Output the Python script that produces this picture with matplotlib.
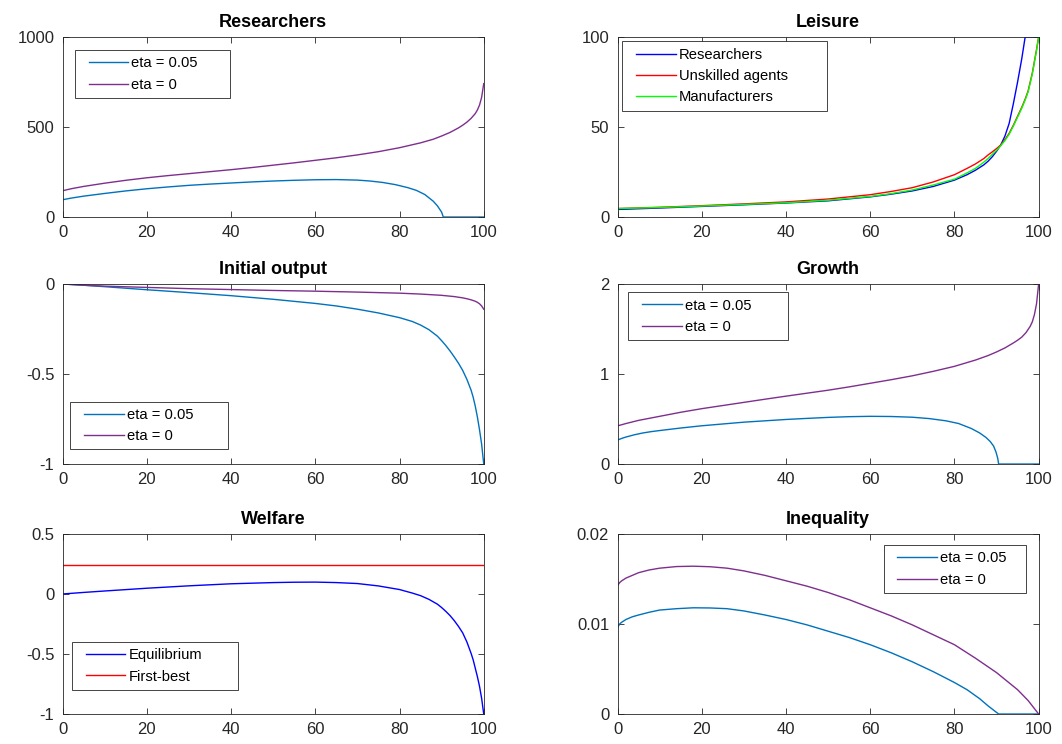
import numpy as np
import matplotlib
matplotlib.use('Agg')
import matplotlib.pyplot as plt
from matplotlib.legend_handler import HandlerLine2D

plt.rcParams['font.family'] = ['Liberation Sans', 'DejaVu Sans']

# ---------------- data ----------------
x_ticks = [0, 20, 40, 60, 80, 100]
x_tick_labels = ['0', '20', '40', '60', '80', '100']

# Researchers
res_x_eta05 = [0, 2, 5, 10, 15, 20, 25, 30, 35, 40, 45, 50, 55, 60, 65, 70, 73, 76, 79, 82, 84, 86, 88, 89, 90, 90.4, 95, 100]
res_eta05 = [96, 105, 116, 131, 145, 157, 167, 176, 183, 189, 195, 200, 204, 207, 208, 205, 200, 192, 180, 163, 148, 125, 88, 62, 27, 0, 0, 0]
res_x_eta0 = [0, 2, 5, 10, 15, 20, 25, 30, 35, 40, 45, 50, 55, 60, 65, 70, 75, 80, 85, 88, 90, 92, 94, 95, 96, 97, 98, 98.5, 99, 99.5, 100]
res_eta0 = [146, 157, 170, 188, 204, 218, 230, 241, 252, 263, 275, 288, 301, 315, 329, 345, 363, 385, 412, 432, 450, 470, 495, 510, 527, 548, 575, 595, 622, 665, 741]

# Leisure
lei_x = [0, 10, 20, 30, 40, 50, 60, 65, 70, 75, 80, 83, 85, 87, 88, 89, 90, 91, 92, 93, 94, 95, 96, 96.8, 97.5, 98, 98.5, 99, 99.5, 100]
lei_researchers = [4.2, 5.0, 5.9, 6.8, 7.8, 9.0, 11.2, 12.7, 14.5, 17.0, 20.5, 23.5, 26, 29, 31, 33.5, 36.5, 40, 45, 52, 63, 75, 88, 100, 100, 100, 100, 100, 100, 100]
lei_unskilled = [4.7, 5.4, 6.3, 7.3, 8.4, 10.0, 12.4, 14.2, 16.3, 19.5, 23.5, 27, 29.5, 32.5, 34.5, 36.2, 38, 40, 43, 46.5, 51, 56, 61, 65.5, 70, 75, 80, 86.5, 93, 100]
lei_manufacturers = [4.7, 5.3, 6.1, 7.0, 7.9, 9.3, 11.4, 13.0, 15.0, 17.8, 21.0, 24.5, 27, 30.5, 32.5, 34.8, 37, 39.6, 42.5, 46, 50.5, 55.5, 60.5, 65, 69.5, 74.5, 79.5, 86, 92.5, 100]

# Initial output
out_x_eta05 = [0, 5, 10, 20, 30, 40, 50, 60, 65, 70, 75, 80, 83, 85, 87, 89, 90, 91, 92, 93, 94, 95, 96, 97, 97.5, 98, 98.5, 99, 99.5, 100]
out_eta05 = [0, -0.007, -0.015, -0.032, -0.048, -0.065, -0.085, -0.108, -0.122, -0.14, -0.161, -0.187, -0.208, -0.228, -0.254, -0.29, -0.315, -0.342, -0.372, -0.405, -0.44, -0.48, -0.53, -0.59, -0.63, -0.68, -0.74, -0.81, -0.89, -1.0]
out_x_eta0 = [0, 5, 10, 20, 30, 40, 50, 60, 70, 80, 85, 90, 93, 95, 96, 97, 98, 98.5, 99, 99.5, 100]
out_eta0 = [0, -0.007, -0.012, -0.019, -0.026, -0.031, -0.036, -0.040, -0.045, -0.051, -0.056, -0.063, -0.07, -0.077, -0.082, -0.088, -0.096, -0.102, -0.11, -0.122, -0.14]

# Growth
gro_x_eta05 = [0, 1, 2, 4, 6, 8, 10, 15, 20, 25, 30, 35, 40, 45, 50, 55, 60, 65, 70, 74, 78, 81, 84, 86, 87.5, 88.5, 89.3, 89.9, 90.3, 90.5, 95, 100]
gro_eta05 = [0.266, 0.285, 0.30, 0.325, 0.345, 0.36, 0.372, 0.40, 0.425, 0.445, 0.465, 0.48, 0.495, 0.507, 0.518, 0.526, 0.53, 0.528, 0.52, 0.505, 0.48, 0.45, 0.395, 0.345, 0.295, 0.25, 0.2, 0.13, 0.06, 0, 0, 0]
gro_x_eta0 = [0, 2, 5, 10, 15, 20, 25, 30, 35, 40, 45, 50, 55, 60, 65, 70, 75, 80, 85, 88, 90, 92, 94, 95, 96, 97, 98, 98.5, 99, 99.5, 100]
gro_eta0 = [0.424, 0.45, 0.485, 0.53, 0.575, 0.615, 0.65, 0.685, 0.72, 0.754, 0.787, 0.82, 0.857, 0.897, 0.937, 0.98, 1.03, 1.085, 1.155, 1.205, 1.245, 1.29, 1.345, 1.375, 1.41, 1.46, 1.53, 1.58, 1.66, 1.78, 2.0]

# Welfare
wel_x = [0, 5, 10, 20, 30, 40, 50, 55, 60, 65, 70, 75, 80, 83, 85, 87, 89, 90, 91, 92, 93, 94, 95, 96, 97, 97.5, 98, 98.5, 99, 99.5, 100]
wel_equilibrium = [0, 0.013, 0.025, 0.048, 0.068, 0.085, 0.095, 0.098, 0.099, 0.095, 0.087, 0.067, 0.037, 0.008, -0.014, -0.045, -0.085, -0.113, -0.145, -0.18, -0.222, -0.27, -0.324, -0.40, -0.495, -0.55, -0.62, -0.69, -0.77, -0.87, -1.0]
wel_x_fb = [0, 100]
wel_first_best = [0.245, 0.245]

# Inequality
ine_x_eta05 = [0, 0.5, 1, 2, 3.5, 5, 7.5, 10, 14, 18, 22, 26, 30, 35, 40, 45, 50, 55, 60, 65, 70, 75, 80, 83, 86, 88, 90.5, 95, 100]
ine_eta05 = [0.0096, 0.0100, 0.0102, 0.0105, 0.0108, 0.0110, 0.0113, 0.01155, 0.0117, 0.0118, 0.01178, 0.0117, 0.01145, 0.0110, 0.0105, 0.0099, 0.0092, 0.0085, 0.0077, 0.0068, 0.0058, 0.0047, 0.0035, 0.0027, 0.0017, 0.0009, 0, 0, 0]
ine_x_eta0 = [0, 0.5, 1, 2, 3.5, 5, 7.5, 10, 14, 18, 22, 26, 30, 35, 40, 45, 50, 55, 60, 65, 70, 75, 80, 85, 90, 95, 97.5, 100]
ine_eta0 = [0.01426, 0.0146, 0.0148, 0.0151, 0.0154, 0.0157, 0.0160, 0.0162, 0.01638, 0.01642, 0.01636, 0.0162, 0.0159, 0.0154, 0.0148, 0.0142, 0.0135, 0.0127, 0.0118, 0.0109, 0.0099, 0.0088, 0.0077, 0.0062, 0.0046, 0.0027, 0.0015, 0]

# ---------------- style ----------------
C_BLUE = '#0072BD'
C_PURPLE = '#7E2F8E'
DARK = (0.15, 0.15, 0.15)
LW = 1.0
LEG_FS = 10.6
LEAD = 5.5  # points of blank before legend line


class LeadHandler(HandlerLine2D):
    def create_artists(self, legend, orig_handle, xdescent, ydescent,
                       width, height, fontsize, trans):
        arts = super().create_artists(legend, orig_handle, xdescent, ydescent,
                                      width, height, fontsize, trans)
        for a in arts:
            xd = np.asarray(a.get_xdata(), dtype=float)
            if xd.size >= 2:
                a.set_xdata(np.linspace(xd[0] + LEAD, xd[-1], xd.size))
        return arts


def style(ax, ylim, yticks, ylabels, title):
    ax.set_xlim(0, 100)
    ax.set_xticks(x_ticks)
    ax.set_xticklabels(x_tick_labels)
    ax.set_ylim(*ylim)
    ax.set_yticks(yticks)
    ax.set_yticklabels(ylabels)
    ax.tick_params(direction='in', length=4, width=0.6, top=True, right=True,
                   labelsize=12, colors=DARK, pad=6)
    for s in ax.spines.values():
        s.set_color(DARK)
        s.set_linewidth(0.6)
    ax.set_title(title, fontsize=13, fontweight='bold', pad=7, color='black')


def legend(ax, x0, y0, w, h):
    handles, labels = ax.get_legend_handles_labels()
    hmap = {hd: LeadHandler() for hd in handles}
    lg = ax.legend(handles, labels, loc='upper left', bbox_to_anchor=(x0, y0, w, h),
                   mode='expand', borderaxespad=0, fontsize=LEG_FS,
                   borderpad=0.42, labelspacing=0.5, handlelength=2.7 + LEAD / LEG_FS,
                   handletextpad=0.2, fancybox=False, framealpha=1,
                   edgecolor=DARK, handler_map=hmap)
    lg.get_frame().set_linewidth(0.6)
    return lg


fig = plt.figure(figsize=(10.62, 7.44), dpi=100)
L, R, W, H = 0.059, 0.5815, 0.3965, 0.242
rows = [0.7083, 0.3763, 0.0403]

# Researchers
ax = fig.add_axes([L, rows[0], W, H])
ax.plot(res_x_eta05, res_eta05, color=C_BLUE, lw=LW, label='eta = 0.05')
ax.plot(res_x_eta0, res_eta0, color=C_PURPLE, lw=LW, label='eta = 0')
style(ax, (0, 1000), [0, 500, 1000], ['0', '500', '1000'], 'Researchers')
legend(ax, 0.029, 0.632, 0.368, 0.295)

# Leisure
ax = fig.add_axes([R, rows[0], W, H])
ax.plot(lei_x, lei_researchers, color=(0, 0, 1), lw=LW, label='Researchers')
ax.plot(lei_x, lei_unskilled, color=(1, 0, 0), lw=LW, label='Unskilled agents')
ax.plot(lei_x, lei_manufacturers, color=(0, 1, 0), lw=LW, label='Manufacturers')
style(ax, (0, 100), [0, 50, 100], ['0', '50', '100'], 'Leisure')
legend(ax, 0.0114, 0.531, 0.487, 0.444)

# Initial output
ax = fig.add_axes([L, rows[1], W, H])
ax.plot(out_x_eta05, out_eta05, color=C_BLUE, lw=LW, label='eta = 0.05')
ax.plot(out_x_eta0, out_eta0, color=C_PURPLE, lw=LW, label='eta = 0')
style(ax, (-1, 0), [-1, -0.5, 0], ['-1', '-0.5', '0'], 'Initial output')
legend(ax, 0.0176, 0.043, 0.374, 0.303)

# Growth
ax = fig.add_axes([R, rows[1], W, H])
ax.plot(gro_x_eta05, gro_eta05, color=C_BLUE, lw=LW, label='eta = 0.05')
ax.plot(gro_x_eta0, gro_eta0, color=C_PURPLE, lw=LW, label='eta = 0')
style(ax, (0, 2), [0, 1, 2], ['0', '1', '2'], 'Growth')
legend(ax, 0.025, 0.647, 0.379, 0.306)

# Welfare
ax = fig.add_axes([L, rows[2], W, H])
ax.plot(wel_x, wel_equilibrium, color=(0, 0, 1), lw=LW, label='Equilibrium')
ax.plot(wel_x_fb, wel_first_best, color=(1, 0, 0), lw=LW, label='First-best')
style(ax, (-1, 0.5), [-1, -0.5, 0, 0.5], ['-1', '-0.5', '0', '0.5'], 'Welfare')
legend(ax, 0.0216, 0.098, 0.395, 0.302)

# Inequality
ax = fig.add_axes([R, rows[2], W, H])
ax.plot(ine_x_eta05, ine_eta05, color=C_BLUE, lw=LW, label='eta = 0.05')
ax.plot(ine_x_eta0, ine_eta0, color=C_PURPLE, lw=LW, label='eta = 0')
style(ax, (0, 0.02), [0, 0.01, 0.02], ['0', '0.01', '0.02'], 'Inequality')
legend(ax, 0.632, 0.619, 0.338, 0.319)

fig.savefig('out.png', dpi=100)
